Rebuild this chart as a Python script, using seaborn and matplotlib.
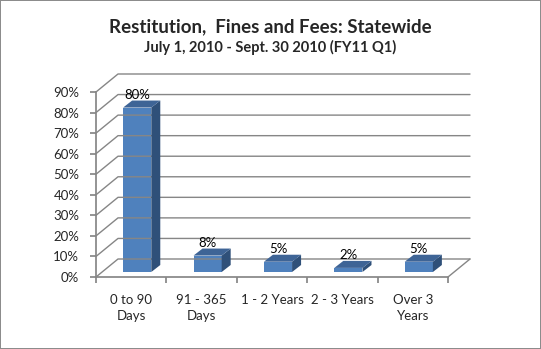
import matplotlib
matplotlib.use("Agg")
import matplotlib.pyplot as plt
import seaborn as sns
import pandas as pd
import numpy as np
from matplotlib.patches import Polygon
from matplotlib.transforms import IdentityTransform, offset_copy

categories = ["0 to 90\nDays", "91 - 365\nDays", "1 - 2 Years", "2 - 3 Years", "Over 3\nYears"]
values = [0.80, 0.08, 0.05, 0.02, 0.05]
labels = ["80%", "8%", "5%", "2%", "5%"]
yticks = [0.0, 0.1, 0.2, 0.3, 0.4, 0.5, 0.6, 0.7, 0.8, 0.9]
title = "Restitution,  Fines and Fees: Statewide"
subtitle = "July 1, 2010 - Sept. 30 2010 (FY11 Q1)"

sns.set_theme(style="white")
plt.rcParams["font.family"] = ["Lato", "DejaVu Sans"]

DPI = 100
W, H = 541, 349
fig = plt.figure(figsize=(W / DPI, H / DPI), dpi=DPI)
fig.patch.set_facecolor("white")
fig.patch.set_edgecolor("#8c8c8c")
fig.patch.set_linewidth(1.2)

ax = fig.add_axes([96 / W, 72 / H, 352 / W, 185 / H])
ax.set_facecolor("none")

df = pd.DataFrame({"cat": categories, "val": values})
sns.barplot(data=df, x="cat", y="val", width=0.4, color="#4F81BD",
            saturation=1, ax=ax, zorder=5)
ax.set_xlim(-0.5, len(categories) - 0.5)
ax.set_ylim(0, 0.9)

# depth offsets (pixels)
WALL_DX, WALL_DY = 22, 18
BAR_OX, BAR_OY = 6, 5
BAR_DX, BAR_DY = 9, 7
grid_c = "#868686"
FS = 9.5

fig.canvas.draw()
T = ax.transData

def disp(x, y):
    return T.transform((x, y))

x0, x1 = -0.5, len(categories) - 0.5
# back wall gridlines and side-wall diagonals
for t in yticks:
    fl = disp(x0, t)
    bl = fl + np.array([WALL_DX, WALL_DY])
    br = disp(x1, t) + np.array([WALL_DX, WALL_DY])
    fig.add_artist(plt.Line2D([fl[0], bl[0], br[0]], [fl[1], bl[1], br[1]],
                              transform=IdentityTransform(), color=grid_c, lw=1, zorder=1))
# floor right edge
fr = disp(x1, 0)
fig.add_artist(plt.Line2D([fr[0], fr[0] + WALL_DX], [fr[1], fr[1] + WALL_DY],
                          transform=IdentityTransform(), color=grid_c, lw=1, zorder=1))

# move bars to mid-depth and add side/top faces
off = offset_copy(ax.transData, fig=fig, x=BAR_OX, y=BAR_OY, units="dots")
for p, lab in zip(ax.patches, labels):
    p.set_transform(off)
    p.set_edgecolor("none")
    xa, xb = p.get_x(), p.get_x() + p.get_width()
    h = p.get_height()
    o = np.array([BAR_OX, BAR_OY])
    d = np.array([BAR_DX, BAR_DY])
    fbl, fbr = disp(xa, 0) + o, disp(xb, 0) + o
    ftl, ftr = disp(xa, h) + o, disp(xb, h) + o
    side = Polygon([fbr, ftr, ftr + d, fbr + d], closed=True,
                   transform=IdentityTransform(), facecolor="#2F5079", edgecolor="none", zorder=6)
    top = Polygon([ftl, ftr, ftr + d, ftl + d], closed=True,
                  transform=IdentityTransform(), facecolor="#3E6496", edgecolor="none", zorder=6)
    fig.add_artist(side)
    fig.add_artist(top)
    cx = (ftl[0] + ftr[0]) / 2
    fig.text(cx / W, (ftl[1] + 13) / H, lab, ha="center", va="center",
             fontsize=FS, color="black")

for s in ["top", "right"]:
    ax.spines[s].set_visible(False)
ax.spines["left"].set_color(grid_c)
ax.spines["bottom"].set_color(grid_c)
ax.set_yticks(yticks)
ax.set_yticklabels([f"{int(round(t*100))}%" for t in yticks])
ax.set_xticks(np.arange(-0.5, len(categories), 1.0), minor=False)
ax.set_xticklabels([])
ax.set_xticks(np.arange(len(categories)), minor=True)
ax.set_xticklabels(categories, minor=True, linespacing=1.45)
ax.tick_params(axis="x", which="major", length=4, color=grid_c, bottom=True, direction="out")
ax.tick_params(axis="x", which="minor", length=0, pad=12, labelsize=FS)
ax.tick_params(axis="y", length=4, color=grid_c, left=True, direction="out", labelsize=FS, pad=8)
ax.set_xlabel("")
ax.set_ylabel("")
ax.grid(False)

fig.text(0.5, 1 - 27 / H, title, ha="center", va="center", fontsize=13.5, fontweight="bold")
fig.text(0.5, 1 - 47 / H, subtitle, ha="center", va="center", fontsize=10.5, fontweight="bold")

fig.savefig("out.png", dpi=DPI, facecolor=fig.get_facecolor(), edgecolor=fig.get_edgecolor())
